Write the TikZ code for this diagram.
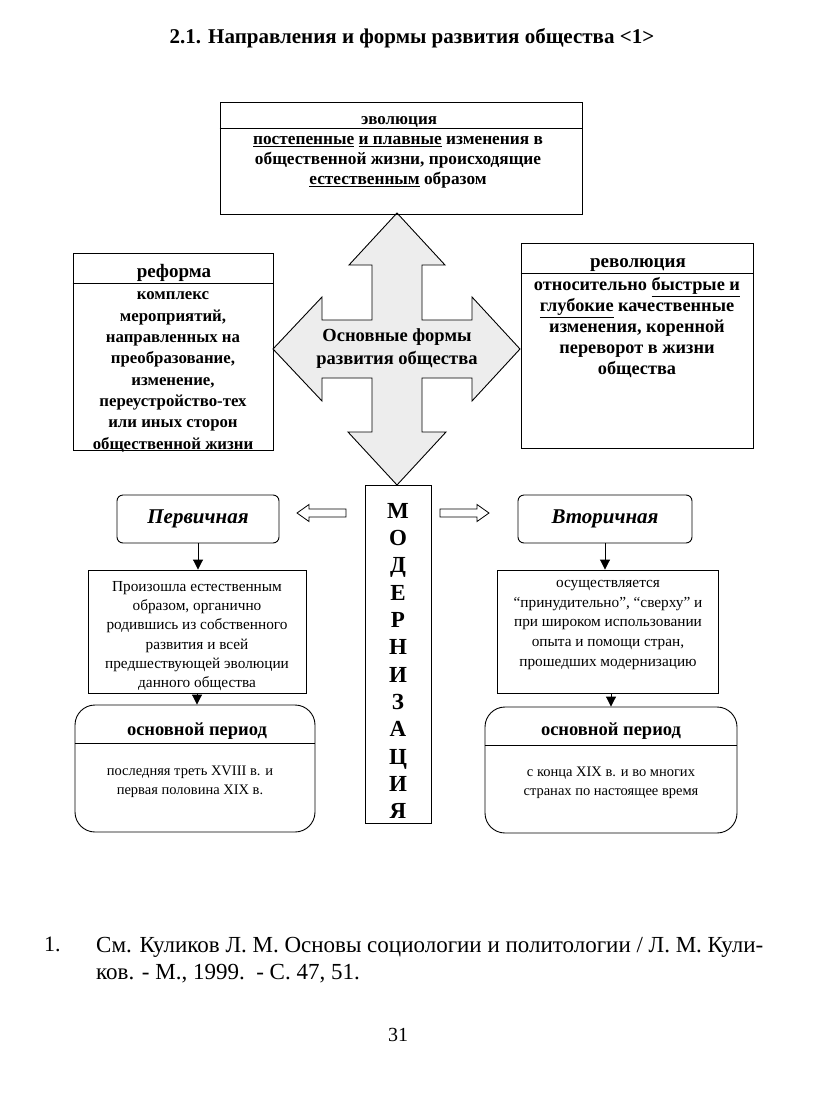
\documentclass[tikz,border=0pt]{standalone}
\usepackage{fontspec}
\setmainfont{Liberation Serif}
\usetikzlibrary{arrows.meta}
\begin{document}
\begin{tikzpicture}[x=1pt,y=-1pt,
  frame/.style={draw, line width=0.9pt, inner sep=0pt},
  rbox/.style={frame, rounded corners=6pt},
  pbox/.style={frame, rounded corners=20pt},
  hdr/.style={font=\fontsize{19}{21}\selectfont\bfseries, inner sep=0pt, anchor=base},
  btext/.style={font=\fontsize{18}{21}\selectfont\bfseries, align=center, inner sep=0pt},
  stext/.style={font=\fontsize{15.3}{19.2}\selectfont, align=center, inner sep=0pt},
  ital/.style={font=\fontsize{21}{23}\selectfont\bfseries\itshape, inner sep=0pt},
  conn/.style={line width=0.9pt, -{Triangle[length=10pt,width=10pt]}},
  hollow/.style={draw, line width=0.8pt, fill=white},
  crossfill/.style={draw, line width=0.9pt, fill=black!7}
]
\useasboundingbox (0,0) rectangle (823,1098);

% title
\node[font=\fontsize{21}{23}\selectfont\bfseries, inner sep=0pt] (title) at (412,38) {2.1. Направления и формы развития общества <1>};

% cross arrow
\draw[crossfill] (397,213) -- (445,265) -- (422,265) -- (422,320) -- (472,320) -- (472,297) -- (520,349) -- (472,401) -- (472,378) -- (422,378) -- (422,432) -- (446,432) -- (397,485) -- (348,432) -- (372,432) -- (372,378) -- (322,378) -- (322,401) -- (273,349) -- (322,297) -- (322,320) -- (372,320) -- (372,265) -- (349,265) -- cycle;
\node[btext, font=\fontsize{18.5}{23}\selectfont\bfseries] (cross) at (397,349) {Основные формы\\развития общества};

% evolution
\node[frame, minimum width=362pt, minimum height=112pt] (evo) at (401,158) {};
\draw[line width=0.8pt] (evo.west |- 0,128) -- (evo.east |- 0,128);
\node[hdr, font=\fontsize{17}{19}\selectfont\bfseries] (evoh) at (399,124) {эволюция};
\node[btext, font=\fontsize{17.3}{20}\selectfont\bfseries] (evot) at (398,162) {\underline{постепенные} \underline{и плавные} изменения в\\общественной жизни, происходящие\\\underline{естественным} образом};

% reform
\node[frame, minimum width=200pt, minimum height=197pt] (ref) at (173,351.5) {};
\draw[line width=0.8pt] (ref.west |- 0,283) -- (ref.east |- 0,283);
\node[hdr] (refh) at (174,277) {реформа};
\node[btext, font=\fontsize{16.8}{21.3}\selectfont\bfseries] (reft) at (173,372) {комплекс\\мероприятий,\\направленных на\\преобразование,\\изменение,\\переустройство-тех\\или иных сторон\\общественной жизни};

% revolution
\node[frame, minimum width=232pt, minimum height=205pt] (rev) at (637,345.5) {};
\draw[line width=0.8pt] (rev.west |- 0,273) -- (rev.east |- 0,273);
\node[hdr] (revh) at (638,267) {революция};
\node[btext, font=\fontsize{18.3}{21}\selectfont\bfseries] (revt) at (637,328) {относительно \underline{быстрые и}\\\underline{глубокие} качественные\\изменения, коренной\\переворот в жизни\\общества};

% modernization
\node[frame, minimum width=66pt, minimum height=338pt] (mod) at (398,654) {};
\node[font=\fontsize{23}{27.3}\selectfont\bfseries, align=center, inner sep=0pt] (modt) at (398,661) {М\\О\\Д\\Е\\Р\\Н\\И\\З\\А\\Ц\\И\\Я};

% primary
\node[rbox, minimum width=162pt, minimum height=48pt] (perv) at (198,519) {};
\node[ital] (pervt) at (198,519) {Первичная};
\node[frame, minimum width=218pt, minimum height=123pt] (ptext) at (197,631.5) {};
\node[stext] (ptextt) at (197,636) {Произошла естественным\\образом, органично\\родившись из собственного\\развития и всей\\предшествующей эволюции\\данного общества};
\node[pbox, minimum width=240pt, minimum height=127pt] (pper) at (195,768.5) {};
\draw[line width=0.8pt] (pper.west |- 0,743) -- (pper.east |- 0,743);
\node[hdr, font=\fontsize{18.5}{21}\selectfont\bfseries] (pperh) at (197,735) {основной период};
\node[stext, font=\fontsize{14.5}{19.5}\selectfont] (ppert) at (190,782) {последняя треть XVIII в. и\\первая половина XIX в.};
\draw[conn] (perv.south) -- (perv.south |- ptext.north);
\draw[conn] (ptext.south) -- (ptext.south |- pper.north);

% secondary
\node[rbox, minimum width=174pt, minimum height=48pt] (vtor) at (605,519) {};
\node[ital] (vtort) at (605,519) {Вторичная};
\node[frame, minimum width=221pt, minimum height=123pt] (vtext) at (607.5,631.5) {};
\node[stext, font=\fontsize{15.3}{19.8}\selectfont] (vtextt) at (608,625) {осуществляется\\“принудительно”, “сверху” и\\при широком использовании\\опыта и помощи стран,\\прошедших модернизацию};
\node[pbox, minimum width=252pt, minimum height=126pt] (vper) at (611,770) {};
\draw[line width=0.8pt] (vper.west |- 0,745) -- (vper.east |- 0,745);
\node[hdr, font=\fontsize{18.5}{21}\selectfont\bfseries] (vperh) at (611,735) {основной период};
\node[stext, font=\fontsize{14.5}{19.5}\selectfont] (vpert) at (611,783) {с конца XIX в. и во многих\\странах по настоящее время};
\draw[conn] (vtor.south) -- (vtor.south |- vtext.north);
\draw[conn] (vtext.south -| vper.north) -- (vper.north);

% hollow arrows
\draw[hollow] (297,513) -- (309,504.5) -- (309,509) -- (346,509) -- (346,517) -- (309,517) -- (309,521.5) -- cycle;
\draw[hollow] (489,513) -- (477,504.5) -- (477,509) -- (440,509) -- (440,517) -- (477,517) -- (477,521.5) -- cycle;

% footnote
\node[font=\fontsize{22}{27}\selectfont, anchor=base west, inner sep=0pt] (fnnum) at (44,951) {1.};
\node[font=\fontsize{23}{27}\selectfont, anchor=north west, align=left, inner sep=0pt] (fn) at (96,937) {См. Куликов Л. М. Основы социологии и политологии / Л. М. Кули-\\ков. - М., 1999.\ \ - С. 47, 51.};

% page number
\node[font=\fontsize{20}{22}\selectfont, inner sep=0pt] (page) at (398,1035) {31};
\end{tikzpicture}
\end{document}
